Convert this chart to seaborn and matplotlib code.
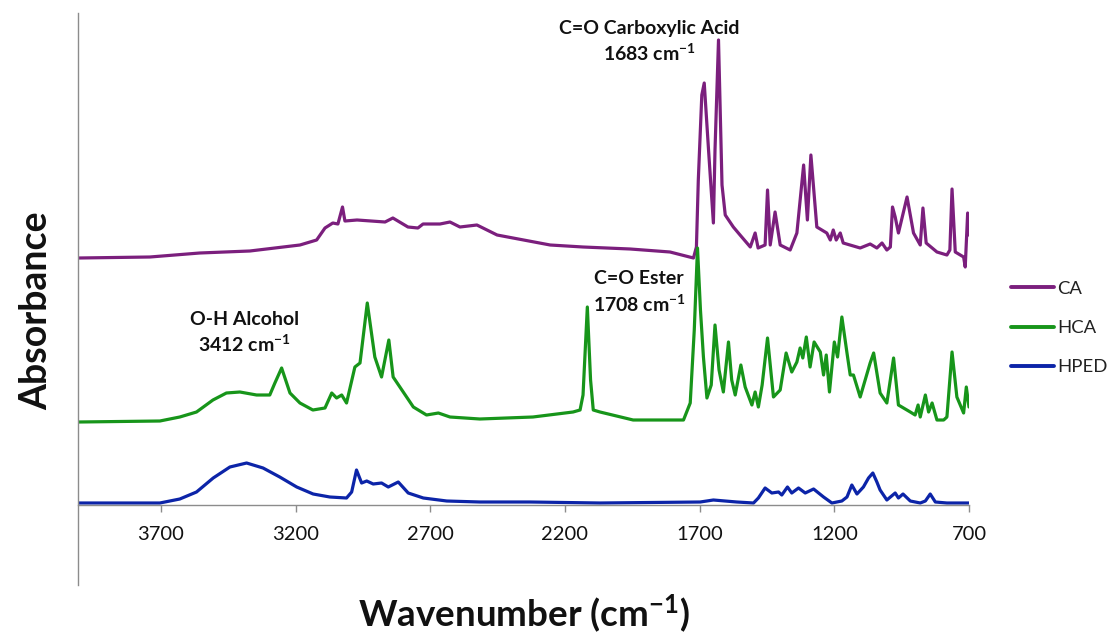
import matplotlib
matplotlib.use("Agg")
import matplotlib.pyplot as plt
import seaborn as sns
import pandas as pd

# ---------------- data ----------------
ca_wn = [4005, 3741, 3556, 3370, 3184, 3122, 3091, 3062, 3043, 3026, 3017, 2972, 2868, 2839,
         2783, 2746, 2727, 2664, 2627, 2590, 2527, 2452, 2393, 2255, 2133, 1958, 1810, 1723,
         1712, 1705, 1692, 1683, 1667, 1649, 1643, 1630, 1617, 1605, 1575, 1550, 1512, 1494,
         1483, 1457, 1448, 1438, 1420, 1401, 1364, 1339, 1314, 1300, 1287, 1265, 1228, 1215,
         1204, 1193, 1178, 1167, 1104, 1067, 1042, 1023, 1005, 992, 984, 974, 962, 930, 906,
         881, 871, 859, 819, 782, 771, 763, 751, 720, 714, 705, 700]
ca_ab = [2.47, 2.48, 2.52, 2.54, 2.60, 2.65, 2.77, 2.82, 2.81, 2.98, 2.84, 2.85, 2.83, 2.87,
         2.78, 2.77, 2.81, 2.81, 2.83, 2.78, 2.80, 2.70, 2.67, 2.60, 2.58, 2.56, 2.53, 2.47,
         2.58, 3.25, 4.10, 4.22, 3.55, 2.82, 3.55, 4.65, 3.20, 2.90, 2.78, 2.70, 2.58, 2.72,
         2.57, 2.60, 3.15, 2.60, 2.93, 2.60, 2.55, 2.72, 3.40, 2.85, 3.50, 2.78, 2.72, 2.65,
         2.75, 2.65, 2.72, 2.62, 2.57, 2.61, 2.57, 2.62, 2.55, 2.58, 2.98, 2.88, 2.72, 3.08, 2.72,
         2.60, 2.97, 2.62, 2.53, 2.50, 2.55, 3.16, 2.53, 2.48, 2.38, 2.92, 2.70]

hca_wn = [4005, 3704, 3630, 3568, 3507, 3457, 3407, 3345, 3296, 3277, 3252, 3221, 3184, 3136,
          3091, 3066, 3048, 3029, 3011, 2980, 2961, 2934, 2906, 2881, 2854, 2838, 2813, 2763,
          2714, 2670, 2627, 2516, 2319, 2170, 2144, 2133, 2117, 2105, 2095, 2070, 1947, 1760,
          1735, 1720, 1708, 1697, 1686, 1673, 1657, 1643, 1628, 1612, 1593, 1581, 1568, 1547,
          1531, 1506, 1494, 1482, 1468, 1448, 1426, 1401, 1379, 1358, 1339, 1327, 1317, 1304,
          1290, 1275, 1252, 1240, 1230, 1218, 1200, 1188, 1172, 1153, 1141, 1129, 1104, 1067,
          1054, 1030, 1005, 980, 962, 918, 900, 889, 881, 862, 850, 837, 819, 794, 782, 763,
          745, 720, 710, 700]
hca_ab = [0.83, 0.84, 0.88, 0.93, 1.05, 1.12, 1.13, 1.10, 1.10, 1.22, 1.37, 1.12, 1.02, 0.95,
          0.97, 1.12, 1.07, 1.10, 1.02, 1.38, 1.42, 2.02, 1.48, 1.28, 1.65, 1.28, 1.18, 0.98,
          0.90, 0.92, 0.88, 0.86, 0.88, 0.93, 0.95, 1.10, 1.98, 1.25, 0.95, 0.93, 0.85, 0.85,
          1.02, 1.75, 2.57, 1.95, 1.48, 1.07, 1.20, 1.80, 1.35, 1.13, 1.63, 1.25, 1.10, 1.40,
          1.18, 1.00, 1.13, 0.98, 1.20, 1.67, 1.08, 1.15, 1.52, 1.33, 1.43, 1.57, 1.47, 1.68,
          1.38, 1.63, 1.53, 1.30, 1.50, 1.13, 1.63, 1.48, 1.88, 1.52, 1.30, 1.30, 1.08, 1.42,
          1.52, 1.12, 1.02, 1.47, 1.00, 0.93, 0.90, 1.00, 0.88, 1.10, 0.93, 1.02, 0.85, 0.85,
          0.88, 1.53, 1.08, 0.92, 1.18, 0.98]

hped_wn = [4005, 3704, 3630, 3568, 3506, 3444, 3382, 3321, 3259, 3196, 3135, 3073, 3011, 2992,
           2974, 2955, 2936, 2912, 2881, 2856, 2819, 2782, 2726, 2639, 2516, 2330, 2070, 1698,
           1649, 1562, 1500, 1482, 1457, 1432, 1407, 1395, 1374, 1358, 1333, 1308, 1277, 1240,
           1209, 1172, 1153, 1135, 1116, 1092, 1073, 1057, 1042, 1030, 1005, 974, 962, 945,
           918, 881, 862, 844, 825, 782, 700]
hped_ab = [0.02, 0.02, 0.06, 0.13, 0.27, 0.38, 0.42, 0.37, 0.28, 0.18, 0.11, 0.08, 0.07, 0.13,
           0.35, 0.22, 0.24, 0.21, 0.22, 0.18, 0.23, 0.12, 0.07, 0.04, 0.03, 0.03, 0.02, 0.03,
           0.05, 0.03, 0.02, 0.07, 0.17, 0.12, 0.13, 0.10, 0.18, 0.12, 0.17, 0.12, 0.16, 0.08,
           0.02, 0.04, 0.08, 0.20, 0.11, 0.18, 0.27, 0.32, 0.23, 0.15, 0.05, 0.12, 0.07, 0.11,
           0.04, 0.02, 0.04, 0.11, 0.03, 0.02, 0.02]

samples = ["CA", "HCA", "HPED"]
colors = ["#7B1F7D", "#17951A", "#0C24A8"]
tick_values = [3700, 3200, 2700, 2200, 1700, 1200, 700]
tick_labels = ["3700", "3200", "2700", "2200", "1700", "1200", "700"]

annotations = [
    ("C=O Carboxylic Acid\n1683 cm$^{\\mathbf{-1}}$", 1888, 4.63),
    ("C=O Ester\n1708 cm$^{\\mathbf{-1}}$", 1925, 2.125),
    ("O-H Alcohol\n3412 cm$^{\\mathbf{-1}}$", 3390, 1.72),
]

# ---------------- build frame ----------------
frames = []
for name, wn, ab in [("CA", ca_wn, ca_ab), ("HCA", hca_wn, hca_ab), ("HPED", hped_wn, hped_ab)]:
    frames.append(pd.DataFrame({"wavenumber": wn, "absorbance": ab, "sample": name}))
df = pd.concat(frames, ignore_index=True)

# ---------------- style ----------------
sns.set_theme(style="white")
plt.rcParams["font.family"] = ["Lato", "DejaVu Sans"]
plt.rcParams["mathtext.fontset"] = "custom"
plt.rcParams["mathtext.rm"] = "Lato"
plt.rcParams["mathtext.bf"] = "Lato:bold"
plt.rcParams["mathtext.it"] = "Lato:italic"

fig = plt.figure(figsize=(11.08, 6.37), dpi=100)
ax = fig.add_axes([78 / 1108, 1 - 585 / 637, (969 - 78) / 1108, (585 - 13) / 637])

sns.lineplot(data=df, x="wavenumber", y="absorbance", hue="sample", hue_order=samples,
             palette=colors, sort=False, estimator=None, linewidth=2.3, ax=ax)

for s in ["top", "right"]:
    ax.spines[s].set_visible(False)
ax.spines["bottom"].set_position(("data", 0))
ax.spines["bottom"].set_color("#8c8c8c")
ax.spines["bottom"].set_linewidth(1)
ax.spines["left"].set_color("#8c8c8c")
ax.spines["left"].set_linewidth(1)

ax.set_xlim(4008, 700)
ax.set_ylim(-0.80, 4.92)
ax.set_yticks([])
ax.set_xticks(tick_values)
ax.set_xticklabels(tick_labels)
ax.tick_params(axis="x", direction="out", length=5, width=1, color="#8c8c8c", pad=10,
               bottom=True, labelsize=14.5, labelcolor="#111111")
ax.set_xlabel("")
ax.set_ylabel("")

for txt, x, y in annotations:
    ax.text(x, y, txt, ha="center", va="center", fontsize=14, fontweight="bold",
            color="#111111", linespacing=1.35)

fig.text(524 / 1108, 1 - 614 / 637, "Wavenumber (cm$^{\\mathbf{-1}}$)", ha="center", va="center",
         fontsize=26.5, fontweight="bold", color="#111111")
fig.text(36 / 1108, 1 - 311 / 637, "Absorbance", ha="center", va="center", rotation=90,
         fontsize=27, fontweight="bold", color="#111111")

handles, labels = ax.get_legend_handles_labels()
leg = ax.legend(handles, labels, loc="center left", bbox_to_anchor=(1011 / 1108, 1 - 328 / 637),
                bbox_transform=fig.transFigure, frameon=False, fontsize=13.3, handlelength=2.35,
                handletextpad=0.15, labelspacing=1.25, borderpad=0, borderaxespad=0)
for line in leg.get_lines():
    line.set_linewidth(2.8)
for t in leg.get_texts():
    t.set_color("#222222")

fig.savefig("out.png", dpi=100)
